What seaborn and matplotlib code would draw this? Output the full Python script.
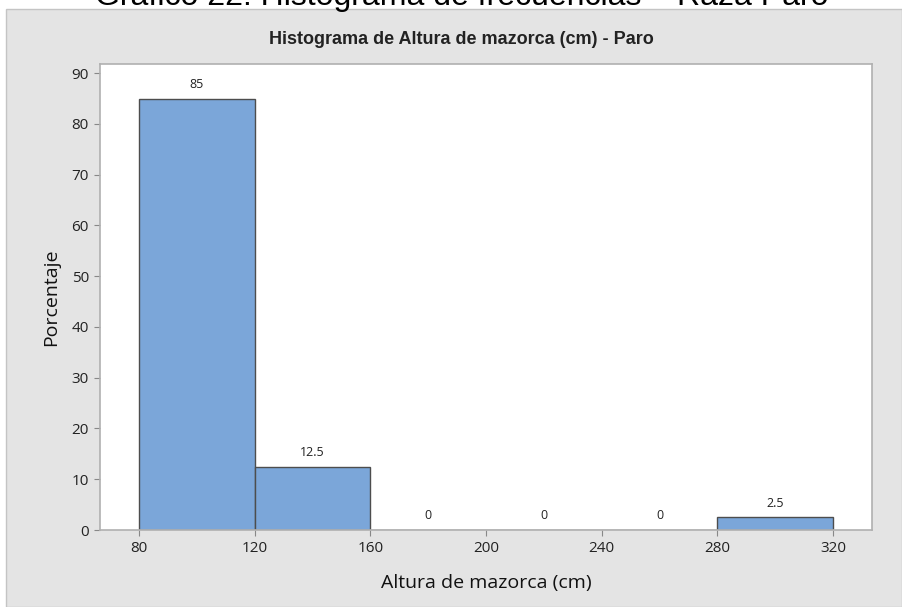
import numpy as np
import seaborn as sns
import matplotlib.pyplot as plt
from matplotlib.patches import Rectangle

# Histogram data
bin_edges = [80, 120, 160, 200, 240, 280, 320]
percentages = [85, 12.5, 0, 0, 0, 2.5]
x_ticks = [80, 120, 160, 200, 240, 280, 320]
y_ticks = [0, 10, 20, 30, 40, 50, 60, 70, 80, 90]

bin_centers = [(a + b) / 2 for a, b in zip(bin_edges[:-1], bin_edges[1:])]

sns.set_theme(style="white")
plt.rcParams['font.family'] = ['Open Sans', 'DejaVu Sans']

fig = plt.figure(figsize=(9.02, 6.07), dpi=100)
fig.patch.set_facecolor('white')

# gray panel behind the chart
fig.patches.append(Rectangle((6 / 902, 0), 896 / 902, 1 - 9 / 607,
                             transform=fig.transFigure, facecolor='#E4E4E4',
                             edgecolor='#C4C4C4', linewidth=1, zorder=-1))

# caption above the panel, mostly cut off at the top as in the source
fig.text(462 / 902, 1 - 5 / 607, 'Gráfico 22: Histograma de frecuencias – Raza Paro',
         ha='center', va='baseline', fontsize=23, family='Liberation Sans', color='black')

ax = fig.add_axes([100 / 902, 1 - 530 / 607, 772 / 902, 466 / 607])
ax.set_facecolor('white')

sns.histplot(x=bin_centers, weights=percentages, bins=bin_edges, ax=ax,
             color='#7BA6D9', edgecolor='#4D4D4D', linewidth=1, alpha=1)

for c, p in zip(bin_centers, percentages):
    ax.text(c, p + 1.5, f'{p:g}', ha='center', va='bottom', fontsize=9, color='#222222')

ax.set_xlim(66.5, 333.5)
ax.set_ylim(0, 91.8)
ax.set_xticks(x_ticks)
ax.set_yticks(y_ticks)
ax.tick_params(axis='both', which='both', direction='out', length=4, width=0.8,
               color='#888888', labelsize=11, labelcolor='#222222',
               bottom=True, left=True, pad=4)
for s in ax.spines.values():
    s.set_color('#B0B0B0')
    s.set_linewidth(1.2)

ax.set_xlabel('Altura de mazorca (cm)', fontsize=14, color='#111111', labelpad=13)
ax.set_ylabel('Porcentaje', fontsize=14, color='#111111', labelpad=8)

fig.text(461 / 902, 1 - 40 / 607, 'Histograma de Altura de mazorca (cm) - Paro',
         ha='center', va='center', fontsize=13, fontweight='bold',
         family='Liberation Sans', color='#222222')

fig.savefig('out.png', dpi=100)
